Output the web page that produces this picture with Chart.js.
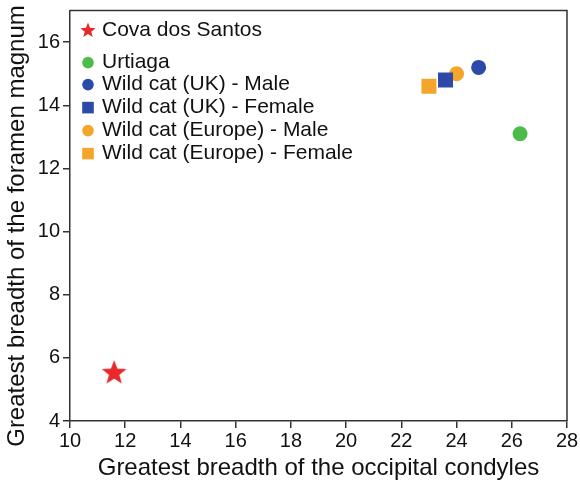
<!DOCTYPE html>
<html>
<head>
<meta charset="utf-8">
<script src="https://cdn.jsdelivr.net/npm/chart.js@4.4.1/dist/chart.umd.min.js"></script>
<style>
  html, body { margin: 0; padding: 0; background: #fff; }
  #wrap { width: 580px; height: 483px; position: relative; }
</style>
</head>
<body>
<div id="wrap"><canvas id="c"></canvas></div>
<script>
// data
const seriesLabels = ['Cova dos Santos', 'Urtiaga', 'Wild cat (UK) - Male', 'Wild cat (UK) - Female', 'Wild cat (Europe) - Male', 'Wild cat (Europe) - Female'];
const condyleBreadth = [11.6, 26.3, 24.8, 23.6, 24.0, 23.0];
const foramenBreadth = [5.55, 13.1, 15.2, 14.8, 15.0, 14.6];
const seriesColors = ['#e8282b', '#4dbb4a', '#2c4aa8', '#2c4aa8', '#f5a52a', '#f5a52a'];
const seriesShapes = ['star', 'circle', 'circle', 'rect', 'circle', 'rect'];
const xTicks = [10, 12, 14, 16, 18, 20, 22, 24, 26, 28];
const yTicks = [4, 6, 8, 10, 12, 14, 16];
const xTitle = 'Greatest breadth of the occipital condyles';
const yTitle = 'Greatest breadth of the foramen magnum';

const FONT = '"Liberation Sans", Arial, sans-serif';
const AXIS = '#333';

// filled star path
function starPath(ctx, cx, cy, outer, inner) {
    ctx.beginPath();
    for (let i = 0; i < 10; i++) {
        const r = i % 2 === 0 ? outer : inner;
        const a = -Math.PI / 2 + i * Math.PI / 5;
        const px = cx + r * Math.cos(a), py = cy + r * Math.sin(a);
        i === 0 ? ctx.moveTo(px, py) : ctx.lineTo(px, py);
    }
    ctx.closePath();
}

function starCanvas(outer, color) {
    const cv = document.createElement('canvas');
    const s = Math.ceil(outer * 2 + 2);
    cv.width = s; cv.height = s;
    const g = cv.getContext('2d');
    starPath(g, s / 2, s / 2 + 1, outer, outer * 0.42);
    g.fillStyle = color;
    g.fill();
    return cv;
}

function markerFor(i) {
    if (seriesShapes[i] === 'star') return starCanvas(13, seriesColors[i]);
    return seriesShapes[i];
}

const datasets = seriesLabels.map((lab, i) => ({
    label: lab,
    data: [{ x: condyleBreadth[i], y: foramenBreadth[i] }],
    backgroundColor: seriesColors[i],
    borderColor: seriesColors[i],
    borderWidth: 0,
    pointStyle: markerFor(i),
    pointRadius: seriesShapes[i] === 'rect' ? 10.6 : 7.5
}));

// frame around the plot, y title and legend inside the plot area
const framePlugin = {
    id: 'frame',
    afterDraw(chart) {
        const { ctx, chartArea: a } = chart;
        ctx.save();
        ctx.strokeStyle = AXIS;
        ctx.lineWidth = 1.5;
        ctx.beginPath();
        ctx.moveTo(a.left, a.top);
        ctx.lineTo(a.right, a.top);
        ctx.lineTo(a.right, a.bottom);
        ctx.stroke();

        // y title (sits a bit lower than the plot centre in the original)
        ctx.save();
        ctx.translate(17, 226);
        ctx.rotate(-Math.PI / 2);
        ctx.font = '24px ' + FONT;
        ctx.fillStyle = '#111';
        ctx.textAlign = 'center';
        ctx.textBaseline = 'middle';
        ctx.fillText(yTitle, 0, 0);
        ctx.restore();

        // legend
        const rowY = [19, 51, 73, 96, 119, 142];
        ctx.font = '21px ' + FONT;
        ctx.textBaseline = 'middle';
        seriesLabels.forEach((lab, i) => {
            const cy = a.top + rowY[i];
            const cx = a.left + 18;
            ctx.fillStyle = seriesColors[i];
            if (seriesShapes[i] === 'star') {
                starPath(ctx, cx, cy + 1, 8, 3.4);
                ctx.fill();
            } else if (seriesShapes[i] === 'circle') {
                ctx.beginPath();
                ctx.arc(cx, cy + 1, 5.8, 0, Math.PI * 2);
                ctx.fill();
            } else {
                ctx.fillRect(cx - 5.8, cy - 4.8, 11.6, 11.6);
            }
            ctx.fillStyle = '#111';
            ctx.fillText(lab, a.left + 32, cy + 1);
        });
        ctx.restore();
    }
};

new Chart(document.getElementById('c'), {
    type: 'scatter',
    data: { datasets },
    plugins: [framePlugin],
    options: {
        responsive: true,
        maintainAspectRatio: false,
        animation: false,
        layout: { padding: { top: 9, right: 13, left: 0, bottom: 0 } },
        plugins: { legend: { display: false }, tooltip: { enabled: false } },
        scales: {
            x: {
                type: 'linear', min: 10, max: 28,
                afterBuildTicks: s => { s.ticks = xTicks.map(v => ({ value: v })); },
                afterFit: s => { s.height = 62; s.paddingLeft = 0; s.paddingRight = 0; },
                ticks: { color: '#111', font: { family: FONT, size: 20 }, padding: 1, maxRotation: 0 },
                grid: { drawOnChartArea: false, drawTicks: true, tickLength: 7, color: AXIS, lineWidth: 1.5 },
                border: { display: true, color: AXIS, width: 1.5 },
                title: { display: true, text: xTitle, color: '#111', font: { family: FONT, size: 24 }, padding: { top: 0, bottom: 0 } }
            },
            y: {
                type: 'linear', min: 4, max: 17,
                afterBuildTicks: s => { s.ticks = yTicks.map(v => ({ value: v })); },
                afterFit: s => { s.width = 70; s.paddingTop = 0; s.paddingBottom = 0; },
                ticks: { color: '#111', font: { family: FONT, size: 20 }, padding: 3 },
                grid: { drawOnChartArea: false, drawTicks: true, tickLength: 7, color: AXIS, lineWidth: 1.5 },
                border: { display: true, color: AXIS, width: 1.5 },
                title: { display: false }
            }
        }
    }
});
</script>
</body>
</html>
